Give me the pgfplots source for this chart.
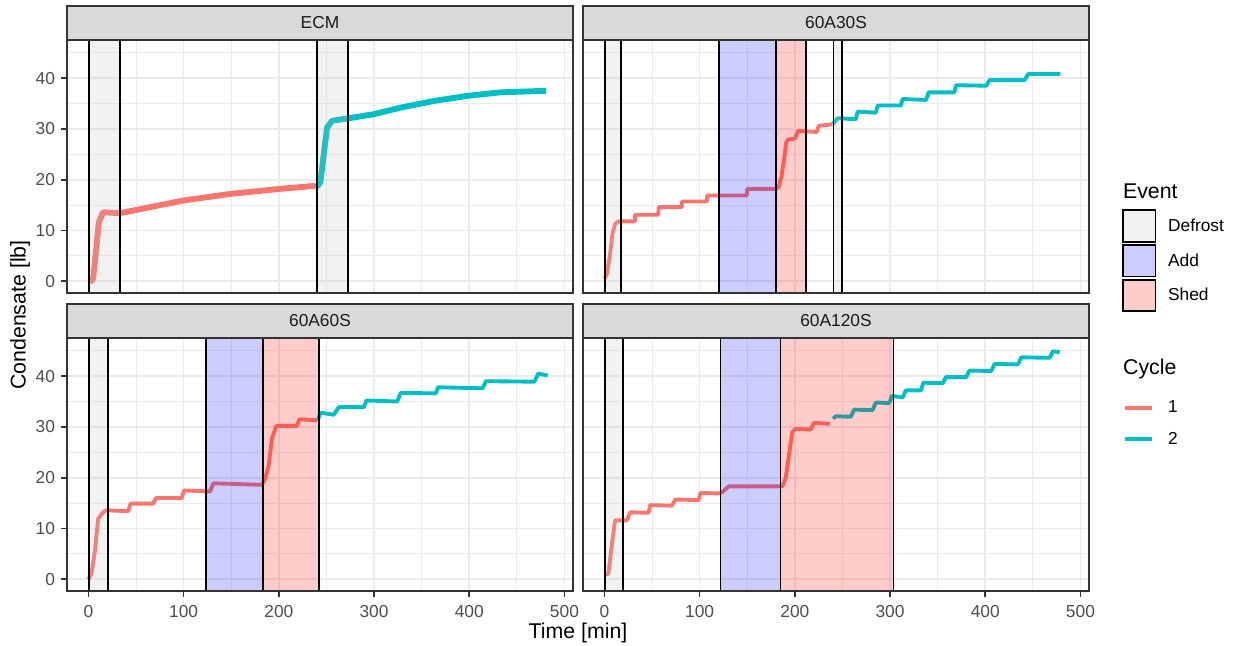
\documentclass[border=0pt]{standalone}
\usepackage{fontspec}
\setmainfont{Liberation Sans}
\usepackage{pgfplots}
\pgfplotsset{compat=1.18}
\definecolor{c1}{HTML}{F8766D}
\definecolor{c2}{HTML}{00BFC4}
\definecolor{gridc}{HTML}{EBEBEB}
\definecolor{g20}{HTML}{333333}
\definecolor{g30}{HTML}{4D4D4D}
\definecolor{g85}{HTML}{D9D9D9}
\definecolor{g10}{HTML}{1A1A1A}
\definecolor{rgrey}{HTML}{BEBEBE}
\definecolor{kdef}{HTML}{F2F2F2}
\definecolor{kadd}{HTML}{CCCCFF}
\definecolor{kshed}{HTML}{FFCCCC}
\newcommand{\smallfont}{\fontsize{13}{15}\selectfont}
\newcommand{\titlefont}{\fontsize{16}{19}\selectfont}
\pgfplotsset{
  panel/.style={scale only axis, width=379.5pt, height=189.75pt,
    xmin=-22.5, xmax=509, ymin=-2.3, ymax=47.5,
    xtick={0,100,200,300,400,500}, ytick={0,10,20,30,40},
    minor xtick={50,150,250,350,450}, minor ytick={5,15,25,35,45},
    grid=both,
    major grid style={draw=gridc, line width=1.3pt},
    minor grid style={draw=gridc, line width=0.65pt},
    axis line style={draw=none},
    tick align=outside, tick pos=left,
    major tick length=4.5pt, minor tick length=0pt,
    tick style={draw=g20, line width=1.3pt},
    ticklabel style={font=\smallfont, text=g30},
    xticklabel style={inner sep=0pt, yshift=-6pt},
    yticklabel style={inner sep=0pt, xshift=-4.3pt},
    /pgf/number format/assume math mode=true,
    anchor=north west},
  cyc1/.style={c1, line width=2.9pt, line join=round, forget plot},
  cyc2/.style={c2, line width=2.9pt, line join=round, forget plot},
  defrost/.style={draw=black, line width=1.3pt, fill=rgrey, fill opacity=0.2, forget plot},
  addev/.style={draw=black, line width=1.3pt, fill=blue, fill opacity=0.2, forget plot},
  shedev/.style={draw=black, line width=1.3pt, fill=red, fill opacity=0.2, forget plot},
}
\begin{document}
\begin{tikzpicture}
\path[use as bounding box] (0pt,0pt) rectangle (929.25pt,-484.5pt);

% ---------------- ECM
\begin{axis}[panel, name=p1, at={(50.25pt,-30pt)}, xticklabels={}, xtick style={draw=none}]
\addplot[cyc1, line width=4.4pt] coordinates {(1.4,-0.2) (4.9,0.5) (8.4,6.7) (10.9,11.6) (15.4,13.6) (33,13.4) (64.6,14.6) (99.7,15.9) (148.9,17.2) (201.5,18.2) (238.4,18.8)};
\addplot[cyc2, line width=4.4pt] coordinates {(239.5,18.5) (243.7,19.5) (247.2,25) (250.7,30.3) (256,31.6) (273.5,32.1) (300,32.9) (328,34.2) (363,35.5) (398,36.5) (433,37.2) (480.7,37.5)};
\addplot[defrost] coordinates {(0.7,-10) (0.7,60) (33,60) (33,-10) (0.7,-10)};
\addplot[defrost] coordinates {(240.2,-10) (240.2,60) (272.8,60) (272.8,-10) (240.2,-10)};
\end{axis}

% ---------------- 60A30S
\begin{axis}[panel, name=p2, at={(437.25pt,-30pt)}, xticklabels={}, yticklabels={}, xtick style={draw=none}, ytick style={draw=none},
  legend cell align=left,
  legend style={at={(axis description cs:1.0646,0.4277)}, anchor=north west, draw=none, fill=none, inner sep=0pt,
    row sep=1.2pt, column sep=8.8pt, nodes={inner sep=0pt, font=\smallfont, text=black}}]
\addplot[cyc1] coordinates {(0,0.5) (2.5,1.4) (6,5.4) (8.4,9.3) (11.2,11.3) (14.7,11.8) (32,11.8) (32.3,13.1) (56.5,13.1) (57,14.6) (81,14.6) (81.5,15.7) (107.5,15.7) (108,16.9) (149.5,16.9) (150,18.2) (180.5,18.2) (183,18.6) (186,20.6) (189,24.5) (191,27.4) (193,27.9) (200,28.1) (203.5,29.6) (223,29.4) (225,30.6) (239.5,30.9)};
\addplot[cyc2] coordinates {(240,31) (244.7,32.1) (264,31.9) (266,33.4) (285,33.2) (287,34.6) (311.4,34.6) (313.2,35.9) (337.8,35.7) (340.6,37.2) (367.6,37.2) (369.4,38.6) (401,38.5) (404.5,39.6) (441.4,39.6) (445,40.8) (479,40.8)};
\addplot[defrost] coordinates {(0.7,-10) (0.7,60) (17.6,60) (17.6,-10) (0.7,-10)};
\addplot[addev] coordinates {(120.1,-10) (120.1,60) (180.5,60) (180.5,-10) (120.1,-10)};
\addplot[shedev] coordinates {(180.5,-10) (180.5,60) (211.4,60) (211.4,-10) (180.5,-10)};
\addplot[defrost] coordinates {(240.5,-10) (240.5,60) (249.6,60) (249.6,-10) (240.5,-10)};
\addlegendimage{legend image code/.code={\node[overlay, anchor=west, inner sep=0pt, font=\titlefont, text=black] at (0pt,0pt) {Event}; \path[draw=none, fill=none] (0pt,-12pt) rectangle (24.5pt,5pt);}}
\addlegendentry{}
\addlegendimage{legend image code/.code={\draw[draw=black, line width=1.3pt, fill=kdef] (0pt,-11.8pt) rectangle (24.5pt,11.8pt);}}
\addlegendentry{Defrost}
\addlegendimage{legend image code/.code={\draw[draw=black, line width=1.3pt, fill=kadd] (0pt,-11.8pt) rectangle (24.5pt,11.8pt);}}
\addlegendentry{Add}
\addlegendimage{legend image code/.code={\draw[draw=black, line width=1.3pt, fill=kshed] (0pt,-11.8pt) rectangle (24.5pt,11.8pt);}}
\addlegendentry{Shed}
\addlegendimage{legend image code/.code={\node[overlay, anchor=west, inner sep=0pt, font=\titlefont, text=black] at (0pt,0pt) {Cycle}; \path[draw=none, fill=none] (0pt,-17.4pt) rectangle (24.5pt,40.5pt);}}
\addlegendentry{}
\addlegendimage{legend image code/.code={\draw[c1, line width=2.9pt] (1.7pt,0pt) -- (21.7pt,0pt); \path[draw=none, fill=none] (0pt,-11.3pt) rectangle (24.5pt,11.3pt);}}
\addlegendentry{1}
\addlegendimage{legend image code/.code={\draw[c2, line width=2.9pt] (1.7pt,0pt) -- (21.7pt,0pt); \path[draw=none, fill=none] (0pt,-11.3pt) rectangle (24.5pt,11.3pt);}}
\addlegendentry{2}
\end{axis}

% ---------------- 60A60S
\begin{axis}[panel, name=p3, at={(50.25pt,-253.5pt)}]
\addplot[cyc1] coordinates {(0,0) (3.2,1.1) (6.7,5.4) (10.2,11.9) (15.4,13.2) (19,13.6) (41.8,13.4) (44.2,14.9) (68.1,14.9) (70.9,16.0) (98,16.0) (100.4,17.5) (127.8,17.3) (131.3,18.9) (182.2,18.6) (185.7,19.8) (189.3,22.4) (192.8,27.7) (197.3,30.2) (219,30.2) (221.6,31.5) (240.2,31.3)};
\addplot[cyc2] coordinates {(240.9,31.3) (243.7,32.8) (257.7,32.4) (263,33.9) (289.3,33.9) (292.1,35.2) (324.4,35.0) (328,36.7) (364.8,36.6) (367.3,37.8) (414,37.6) (417.5,39) (468.4,38.9) (472.6,40.5) (482.4,40.1)};
\addplot[defrost] coordinates {(0.7,-10) (0.7,60) (20.7,60) (20.7,-10) (0.7,-10)};
\addplot[addev] coordinates {(123.2,-10) (123.2,60) (183.3,60) (183.3,-10) (123.2,-10)};
\addplot[shedev] coordinates {(183.3,-10) (183.3,60) (241.9,60) (241.9,-10) (183.3,-10)};
\end{axis}

% ---------------- 60A120S
\begin{axis}[panel, name=p4, at={(437.25pt,-253.5pt)}, yticklabels={}, ytick style={draw=none}]
\addplot[cyc1] coordinates {(0,0.9) (4.2,1.1) (7.7,6.7) (11.2,11.6) (23.5,11.6) (27,13.2) (46.3,13.1) (48.1,14.6) (70.9,14.5) (74.4,15.7) (99,15.6) (100.8,17.0) (120,16.9) (124,17.2) (130.6,18.3) (186.8,18.3) (190.3,19.8) (193.8,24.4) (197.3,29) (200.8,29.6) (216.6,29.5) (220.2,30.8) (236.7,30.6)};
\addplot[cyc2] coordinates {(240.2,31.6) (243,32.1) (258.8,32.0) (262.3,33.4) (281.6,33.3) (285.1,34.8) (299.2,34.7) (302,36.1) (313.2,35.8) (316.7,37.2) (332.5,37.2) (335,38.7) (355.3,38.6) (358.8,39.8) (380,39.8) (383.4,41.1) (406.3,41.0) (409.8,42.4) (434.3,42.3) (437.9,43.7) (467.7,43.6) (471.2,44.9) (478.2,44.7)};
\addplot[defrost] coordinates {(0.7,-10) (0.7,60) (19.3,60) (19.3,-10) (0.7,-10)};
\addplot[addev] coordinates {(121.8,-10) (121.8,60) (185,60) (185,-10) (121.8,-10)};
\addplot[shedev] coordinates {(185,-10) (185,60) (303.7,60) (303.7,-10) (185,-10)};
\end{axis}

% frames and strips
\foreach \p/\lab in {p1/ECM, p2/60A30S, p3/60A60S, p4/60A120S}{
  \draw[g20, line width=1.3pt] (\p.south west) rectangle (\p.north east);
  \draw[g20, line width=1.3pt, fill=g85] (\p.north west) rectangle ([yshift=25.5pt]\p.north east);
  \node[font=\smallfont, text=g10] at ([yshift=12.75pt]\p.north) {\lab};
}
\node[font=\titlefont, rotate=90] at (15pt,-236.25pt) {Condensate [lb]};
\node[font=\titlefont] at (433.5pt,-474.75pt) {Time [min]};
\end{tikzpicture}
\end{document}
